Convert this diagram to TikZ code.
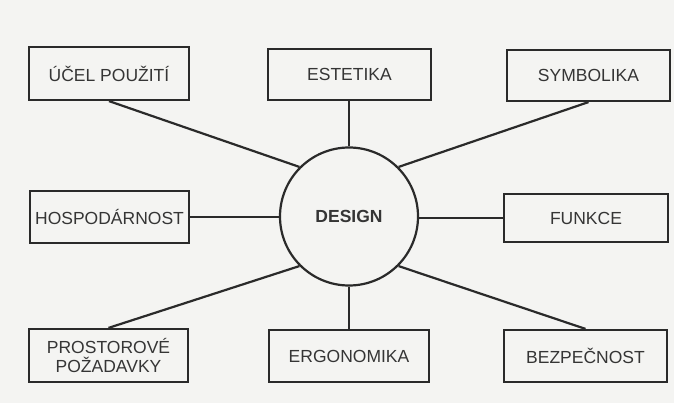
\documentclass[tikz,border=0pt]{standalone}
\usepackage{fontspec}
\setmainfont{Liberation Sans}
\definecolor{bgc}{HTML}{F4F4F2}
\definecolor{linec}{HTML}{2A2A2A}
\definecolor{textc}{HTML}{353535}
\begin{document}
\begin{tikzpicture}[x=1pt,y=-1pt,
  boxnode/.style={draw=linec,line width=2.2pt,rectangle,inner sep=0pt,
    text=textc,align=center,font=\fontsize{17.5}{19.5}\selectfont},
  hub/.style={draw=linec,line width=2.2pt,circle,inner sep=0pt,minimum size=138pt,
    text=textc,font=\fontsize{17.5}{19.5}\selectfont\bfseries},
  link/.style={draw=linec,line width=2.2pt}]
\fill[bgc] (0,0) rectangle (674,403);
\useasboundingbox (0,0) rectangle (674,403);
\node[hub] (design) at (349,216.5) {DESIGN};
\node[boxnode,minimum width=160pt,minimum height=53pt] (ucel) at (109,73.5) {ÚČEL POUŽITÍ};
\node[boxnode,minimum width=163pt,minimum height=51pt] (estetika) at (349.5,74.5) {ESTETIKA};
\node[boxnode,minimum width=163pt,minimum height=51pt] (symbolika) at (588.5,75.5) {SYMBOLIKA};
\node[boxnode,minimum width=159pt,minimum height=52pt] (hosp) at (109.5,217) {HOSPODÁRNOST};
\node[boxnode,minimum width=164pt,minimum height=48pt] (funkce) at (586,218) {FUNKCE};
\node[boxnode,minimum width=159pt,minimum height=53pt] (prost) at (108.5,355.5) {PROSTOROVÉ\\POŽADAVKY};
\node[boxnode,minimum width=160pt,minimum height=52pt] (ergo) at (349,356) {ERGONOMIKA};
\node[boxnode,minimum width=163pt,minimum height=52pt] (bezp) at (585.5,356) {BEZPEČNOST};
\draw[link] (ucel.south) -- (design.135);
\draw[link] (estetika.south -| design.north) -- (design.north);
\draw[link] (symbolika.south) -- (design.45);
\draw[link] (hosp.east) -- (hosp.east -| design.west);
\draw[link] (funkce.west) -- (funkce.west -| design.east);
\draw[link] (prost.north) -- (design.225);
\draw[link] (ergo.north -| design.south) -- (design.south);
\draw[link] (bezp.north) -- (design.315);
\end{tikzpicture}
\end{document}
